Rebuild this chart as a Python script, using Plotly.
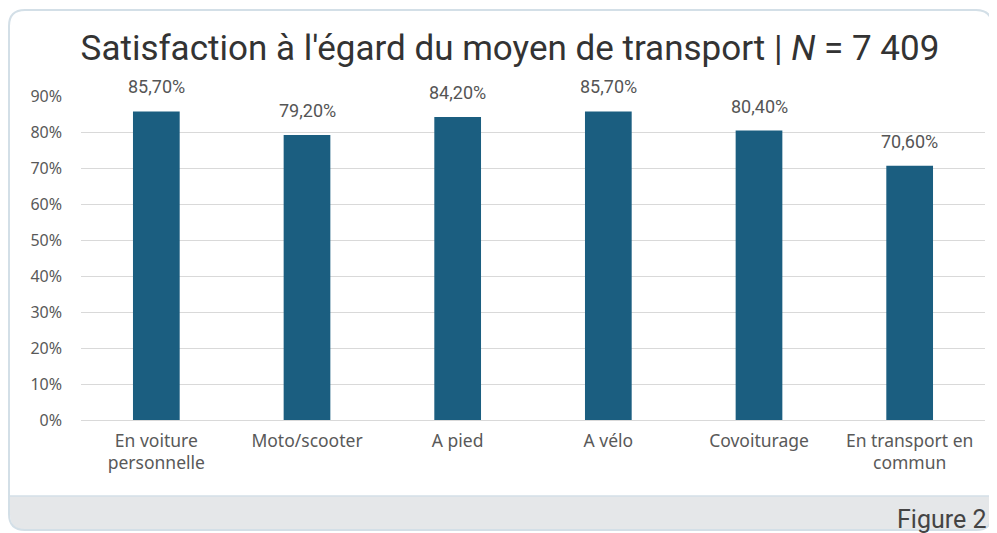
import plotly.graph_objects as go

categories = ["En voiture<br>personnelle", "Moto/scooter", "A pied", "A vélo", "Covoiturage", "En transport en<br>commun"]
values = [85.7, 79.2, 84.2, 85.7, 80.4, 70.6]
tick_vals = [0, 10, 20, 30, 40, 50, 60, 70, 80, 90]
tick_text = [f"{v}%" for v in tick_vals]
labels = [f"{v:.2f}".replace(".", ",") + "%" for v in values]

# page offset of the plot div inside the browser window (body margin)
OX, OY = 8, 8
W, H = 997 - OX, 533 - OY
# plot area in window pixels
PX0, PX1, PY0, PY1 = 81, 985, 96, 420
L, R, T, B = PX0 - OX, W - (PX1 - OX), PY0 - OY, H - (PY1 - OY)
pw, ph = W - L - R, H - T - B

def px(x):
    return (x - OX - L) / pw

def py(y):
    return (H - B - (y - OY)) / ph

fig = go.Figure()
fig.add_trace(go.Bar(
    x=categories, y=values,
    marker=dict(color="#1b5e80", line=dict(width=0)),
    width=0.31,
    hoverinfo="skip",
))

for c, v, t in zip(categories, values, labels):
    fig.add_annotation(x=c, y=v, text=t, showarrow=False, yanchor="bottom",
                       yshift=12, font=dict(family="Roboto, Arial", size=18, color="#555555"))

def rounded(x0, y0, x1, y1, r, top=True, bottom=True):
    X0, X1 = px(x0), px(x1)
    Y0, Y1 = py(y0), py(y1)  # Y0 top, Y1 bottom
    rx, ry = r / pw, r / ph
    p = []
    if top:
        p.append(f"M {X0} {Y0 - ry} Q {X0} {Y0} {X0 + rx} {Y0} L {X1 - rx} {Y0} Q {X1} {Y0} {X1} {Y0 - ry}")
    else:
        p.append(f"M {X0} {Y0} L {X1} {Y0}")
    if bottom:
        p.append(f"L {X1} {Y1 + ry} Q {X1} {Y1} {X1 - rx} {Y1} L {X0 + rx} {Y1} Q {X0} {Y1} {X0} {Y1 + ry} Z")
    else:
        p.append(f"L {X1} {Y1} L {X0} {Y1} Z")
    return " ".join(p)

# footer band
fig.add_shape(type="path", xref="paper", yref="paper", layer="below",
              path=rounded(10, 496, 992, 530, 16, top=False, bottom=True),
              fillcolor="#e5e7e9", line=dict(width=0))
# card border
fig.add_shape(type="path", xref="paper", yref="paper", layer="below",
              path=rounded(9, 10, 992, 530, 16),
              fillcolor="rgba(0,0,0,0)", line=dict(color="#d3dfe7", width=2))
# footer top line
fig.add_shape(type="line", xref="paper", yref="paper", layer="below",
              x0=px(10), x1=px(992), y0=py(496), y1=py(496),
              line=dict(color="#d3dfe7", width=1.5))

fig.add_annotation(xref="paper", yref="paper", x=px(988), y=py(519), text="Figure 2",
                   showarrow=False, xanchor="right", yanchor="middle",
                   font=dict(family="Roboto, Arial", size=25, color="#444444"))

fig.update_layout(
    width=W, height=H,
    margin=dict(l=L, r=R, t=T, b=B),
    paper_bgcolor="white", plot_bgcolor="white",
    showlegend=False,
    bargap=0.69,
    title=dict(text="Satisfaction à l'égard du moyen de transport | <i>N</i> = 7 409",
               x=(510 - OX) / W, xanchor="center", y=1 - (48 - OY) / H, yanchor="middle",
               font=dict(family="Roboto, Arial", size=35, color="#333333")),
    xaxis=dict(tickfont=dict(family="Noto Sans, Arial", size=17.5, color="#595959"),
               showline=False, showgrid=False, ticks="", ticklabelstandoff=8, fixedrange=True),
    yaxis=dict(range=[0, 90], tickvals=tick_vals, ticktext=tick_text,
               tickfont=dict(family="Noto Sans, Arial", size=16, color="#595959"),
               showgrid=True, gridcolor="#d9d9d9", gridwidth=1,
               zeroline=True, zerolinecolor="#d9d9d9", zerolinewidth=1,
               showline=False, ticks="", ticklabelstandoff=18, fixedrange=True),
)

fig.write_html("out.html")
